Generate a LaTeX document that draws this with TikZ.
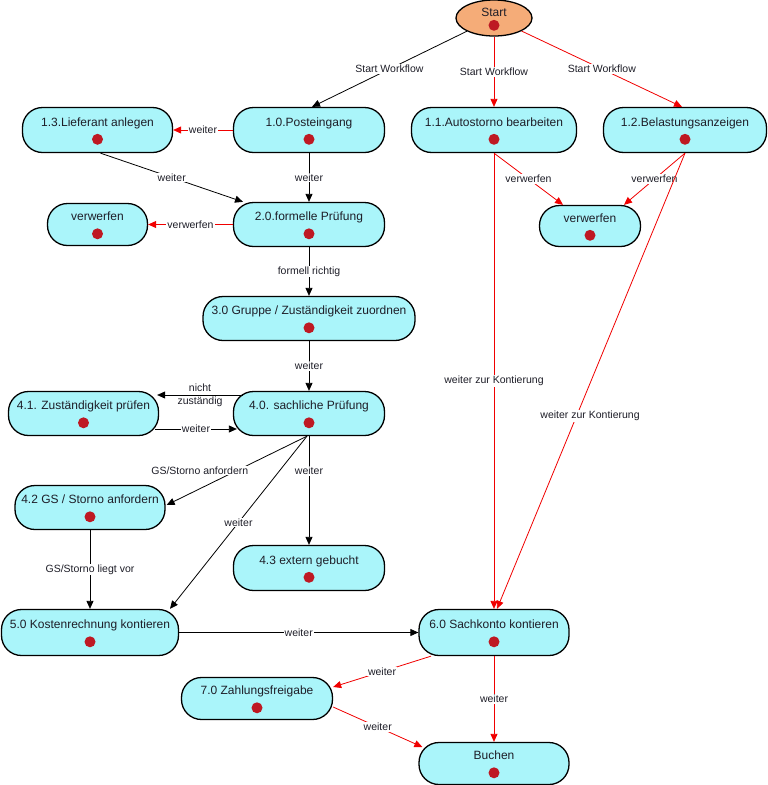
\documentclass[tikz,border=0pt]{standalone}
\usepackage{fontspec}
\setmainfont{Liberation Sans}
\usetikzlibrary{arrows.meta,shapes.geometric}
\definecolor{boxfill}{RGB}{170,245,250}
\definecolor{startfill}{RGB}{245,172,120}
\definecolor{dotred}{RGB}{190,25,35}
\definecolor{txt}{RGB}{30,30,40}
\definecolor{lred}{RGB}{240,0,0}
\tikzset{
 box/.style={draw=black, line width=1.3pt, fill=boxfill, rounded corners=20pt, inner sep=0pt},
 startnode/.style={ellipse, draw=black, line width=1.3pt, fill=startfill, minimum width=76pt, minimum height=36pt, inner sep=0pt},
 ttl/.style={font=\fontsize{12}{14}\selectfont, text=txt, inner sep=0pt, text height=9pt, text depth=2.5pt},
 dotn/.style={circle, fill=dotred, minimum size=11pt, inner sep=0pt},
 lab/.style={font=\fontsize{10.5}{12.6}\selectfont, text=txt, fill=white, inner sep=1pt},
 nlab/.style={font=\fontsize{10.5}{13}\selectfont, text=txt, align=center, inner sep=0pt},
 bflow/.style={draw=black, line width=0.8pt, -{Triangle[length=8pt,width=7pt]}},
 rflow/.style={draw=lred, line width=0.8pt, -{Triangle[length=8pt,width=7pt]}},
}
\newcommand\stnode[6]{%
 \node[box, minimum width=#4, minimum height=#5] (#1) at (#2,#3) {};
 \node[ttl] (#1-t) at ([yshift=6.8]#1.center) {#6};
 \node[dotn] (#1-d) at ([yshift=-9.3]#1.center) {};
}
\begin{document}
\begin{tikzpicture}[x=1pt,y=-1pt]
\useasboundingbox (0,0) rectangle (768,785);
% nodes
\node[startnode] (start) at (494,18) {};
\node[ttl] (start-t) at ([yshift=4.6]start.center) {Start};
\node[dotn] (start-d) at ([yshift=-7.3]start.center) {};
\stnode{n10}{309}{130}{151}{45}{1.0.Posteingang}
\stnode{n13}{97.5}{130}{150}{45}{1.3.Lieferant anlegen}
\stnode{n11}{494}{130}{165}{45}{1.1.Autostorno bearbeiten}
\stnode{n12}{685}{130}{163}{45}{1.2.Belastungsanzeigen}
\stnode{vl}{97.5}{224.5}{100}{42}{verwerfen}
\stnode{n20}{309}{224.5}{151}{44}{2.0.formelle Prüfung}
\stnode{vr}{590}{226}{101}{41}{verwerfen}
\stnode{n30}{309}{318.5}{212}{44}{3.0 Gruppe / Zuständigkeit zuordnen}
\stnode{n40}{309}{413.5}{151}{44}{4.0. sachliche Prüfung}
\stnode{n41}{83.5}{413.5}{150}{44}{4.1. Zuständigkeit prüfen}
\stnode{n42}{90}{507.5}{150}{44}{4.2 GS / Storno anfordern}
\stnode{n43}{309}{568}{151}{45}{4.3 extern gebucht}
\stnode{n50}{90}{632.5}{177}{46}{5.0 Kostenrechnung kontieren}
\stnode{n60}{494}{632.5}{150}{46}{6.0 Sachkonto kontieren}
\stnode{n70}{257}{698.5}{151}{42}{7.0 Zahlungsfreigabe}
\stnode{nbu}{494}{763.5}{150}{42}{Buchen}
% connectors
\draw[bflow] (start) -- ([xshift=3]n10.north) node[lab,midway]{Start Workflow};
\draw[rflow] (start.south) -- (n11.north) node[lab,midway]{Start Workflow};
\draw[rflow] (start) -- ([xshift=-3]n12.north) node[lab,midway]{Start Workflow};
\draw[rflow] (n10.west) -- (n13.east) node[lab,midway]{weiter};
\draw[bflow] ([xshift=3]n13.south) -- ([xshift=-66]n20.north) node[lab,midway]{weiter};
\draw[bflow] (n10.south) -- (n20.north) node[lab,midway]{weiter};
\draw[rflow] (n20.west) -- (vl.east) node[lab,midway]{verwerfen};
\draw[bflow] (n20.south) -- (n30.north) node[lab,midway]{formell richtig};
\draw[bflow] (n30.south) -- (n40.north) node[lab,midway]{weiter};
\draw[bflow] ([xshift=10,yshift=18.5]n40.west) -- ([xshift=-2,yshift=18.5]n41.east) node[nlab,midway]{nicht\\zuständig};
\draw[bflow] ([xshift=-4,yshift=-15.5]n41.east) -- ([xshift=4,yshift=-15.5]n40.west) node[lab,midway]{weiter};
\draw[bflow] ([xshift=-2]n40.south) -- ([xshift=1,yshift=2.5]n42.east) node[lab,midway,xshift=-37]{GS/Storno anfordern};
\draw[bflow] ([xshift=-2]n40.south) -- ([xshift=80]n50.north) node[lab,midway]{weiter};
\draw[bflow] (n40.south) -- (n43.north) node[lab,pos=0.32]{weiter};
\draw[bflow] (n42.south) -- (n50.north) node[lab,midway]{GS/Storno liegt vor};
\draw[bflow] (n50.east) -- (n60.west) node[lab,midway]{weiter};
\draw[rflow] ([xshift=-63]n60.south) -- ([yshift=11.5]n70.east) node[lab,midway]{weiter};
\draw[rflow] ([yshift=-8.5]n70.east) -- ([xshift=4,yshift=16.5]nbu.west) node[lab,midway]{weiter};
\draw[rflow] (n60.south) -- (nbu.north) node[lab,midway]{weiter};
\draw[rflow] (n11.south) -- ([xshift=-27]vr.north) node[lab,midway]{verwerfen};
\draw[rflow] (n12.south) -- ([xshift=34]vr.north) node[lab,midway]{verwerfen};
\draw[rflow] (n11.south) -- (n60.north) node[lab,midway]{weiter zur Kontierung};
\draw[rflow] (n12.south) -- ([xshift=3]n60.north) node[lab,pos=0.577,xshift=13.5]{weiter zur Kontierung};
\end{tikzpicture}
\end{document}
